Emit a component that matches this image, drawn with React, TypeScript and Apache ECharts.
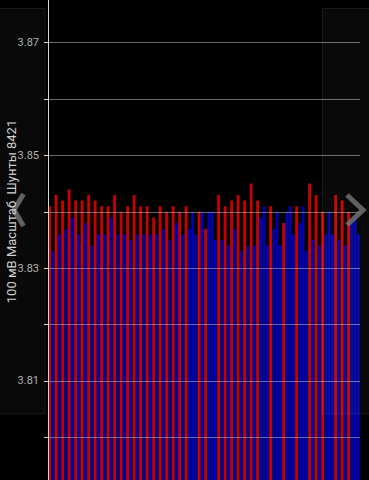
import React, { useEffect, useRef } from "react";
import * as echarts from "echarts";

// Cell voltages (V), cell 1..96
const voltages = [
  3.841, 3.833, 3.843, 3.836, 3.842, 3.837, 3.844, 3.839, 3.842, 3.836,
  3.842, 3.838, 3.843, 3.834, 3.842, 3.836, 3.841, 3.836, 3.841, 3.839,
  3.843, 3.836, 3.840, 3.836, 3.841, 3.835, 3.843, 3.836, 3.841, 3.836,
  3.841, 3.836, 3.839, 3.836, 3.841, 3.837, 3.840, 3.835, 3.841, 3.838,
  3.840, 3.836, 3.841, 3.837, 3.840, 3.836, 3.840, 3.840, 3.837, 3.840,
  3.840, 3.835, 3.843, 3.835, 3.841, 3.834, 3.842, 3.837, 3.843, 3.833,
  3.842, 3.834, 3.845, 3.834, 3.842, 3.839, 3.841, 3.834, 3.841, 3.837,
  3.840, 3.834, 3.838, 3.840, 3.841, 3.836, 3.841, 3.838, 3.841, 3.833,
  3.845, 3.835, 3.843, 3.834, 3.840, 3.836, 3.840, 3.836, 3.843, 3.835,
  3.842, 3.834, 3.840, 3.838, 3.839, 3.836,
];

// 1 = shunt (balancing) active -> red bar, 0 -> blue bar
const shunt = [
  1, 0, 1, 0, 1, 0, 1, 0, 1, 0,
  1, 0, 1, 0, 1, 0, 1, 0, 1, 0,
  1, 0, 1, 0, 1, 0, 1, 0, 1, 0,
  1, 0, 1, 0, 1, 0, 1, 0, 1, 0,
  1, 0, 1, 0, 0, 0, 1, 0, 1, 0,
  0, 0, 1, 0, 1, 0, 1, 0, 1, 0,
  1, 0, 1, 0, 1, 0, 0, 0, 1, 0,
  0, 0, 1, 0, 0, 0, 1, 0, 0, 0,
  1, 0, 1, 0, 1, 0, 0, 0, 1, 0,
  1, 0, 1, 0, 0, 0,
];

const cells = voltages.map((_, i) => String(i + 1));
const yLabels = ["3.81", "3.83", "3.85", "3.87"];
const axisName = "100 мВ Масштаб  Шунты 8421";

const RED = "#c80000";
const BLUE = "#0000b0";
const OFF = 20; // container is shifted 20px above the page

export default function App() {
  const ref = useRef<HTMLDivElement>(null);
  useEffect(() => {
    if (!ref.current) return;
    const chart = echarts.init(ref.current, undefined, { renderer: "svg" });
    const panelFill = "rgba(255,255,255,0.035)";
    const panelStroke = "rgba(255,255,255,0.09)";
    const chevron = "rgba(120,120,120,0.8)";
    chart.setOption({
      animation: false,
      backgroundColor: "#000",
      grid: { left: 48, right: 9, top: 6.3, bottom: 16.3, containLabel: false },
      xAxis: {
        type: "category",
        data: cells,
        show: false,
      },
      yAxis: {
        type: "value",
        min: 3.79,
        max: 3.88,
        interval: 0.01,
        z: 5,
        axisLine: { show: true, lineStyle: { color: "#d8d8d8", width: 1 } },
        axisTick: { show: true, length: 4, lineStyle: { color: "#cfcfcf" } },
        axisLabel: {
          color: "#b0b0b0",
          fontSize: 11,
          fontFamily: "Roboto",
          margin: 9,
          formatter: (v: number) => {
            const s = v.toFixed(2);
            return yLabels.includes(s) ? s : "";
          },
        },
        splitLine: {
          show: true,
          lineStyle: { color: "rgba(190,190,190,0.55)", width: 1 },
        },
      },
      series: [
        {
          type: "bar",
          data: voltages.map((v, i) => ({
            value: v,
            itemStyle: { color: shunt[i] ? RED : BLUE },
          })),
          barCategoryGap: "12%",
          z: 2,
        },
      ],
      graphic: [
        {
          type: "rect",
          z: 20,
          shape: { x: -1, y: 8.5 + OFF, width: 46, height: 405.5 },
          style: { fill: panelFill, stroke: panelStroke, lineWidth: 1 },
        },
        {
          type: "rect",
          z: 20,
          shape: { x: 322.5, y: 8.5 + OFF, width: 48, height: 405.5 },
          style: { fill: panelFill, stroke: panelStroke, lineWidth: 1 },
        },
        {
          type: "polyline",
          z: 21,
          shape: { points: [[23.5, 194 + OFF], [14, 210 + OFF], [23.5, 226 + OFF]] },
          style: { stroke: chevron, lineWidth: 5, fill: "none", lineJoin: "miter" },
        },
        {
          type: "polyline",
          z: 21,
          shape: { points: [[347, 195 + OFF], [363, 210 + OFF], [347, 225 + OFF]] },
          style: { stroke: chevron, lineWidth: 5, fill: "none", lineJoin: "miter" },
        },
        {
          type: "text",
          z: 22,
          x: 11,
          y: 211.5 + OFF,
          rotation: Math.PI / 2,
          style: {
            text: axisName,
            fill: "#d0d0d0",
            fontSize: 13,
            fontFamily: "Roboto",
            textAlign: "center",
            textVerticalAlign: "middle",
          },
        },
      ],
    });
    return () => chart.dispose();
  }, []);
  return (
    <div
      ref={ref}
      style={{ position: "fixed", left: 0, top: -OFF, width: 369, height: 530 }}
    />
  );
}
